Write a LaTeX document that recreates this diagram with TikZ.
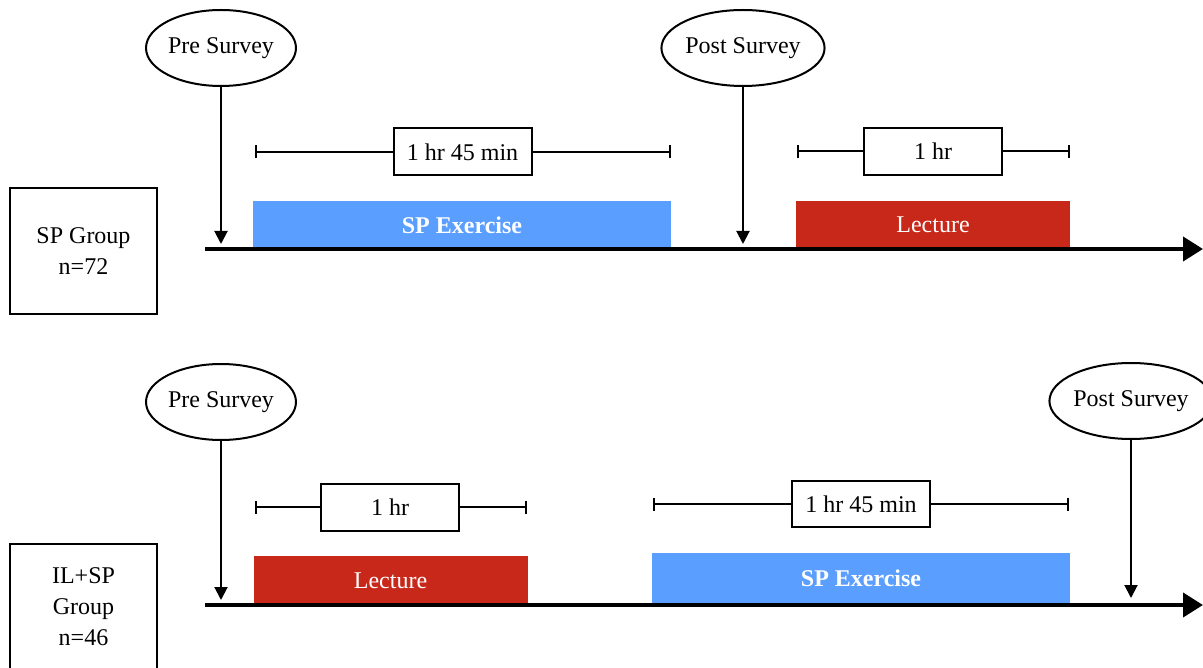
\documentclass[tikz,border=0pt]{standalone}
\usepackage{fontspec}
\setmainfont{Liberation Serif}
\usetikzlibrary{arrows.meta,shapes.geometric}
\definecolor{spblue}{RGB}{90,158,255}
\definecolor{lecred}{RGB}{200,40,26}
\begin{document}
\begin{tikzpicture}[x=1pt,y=-1pt,
  font=\fontsize{24}{31}\selectfont,
  survey/.style={draw,ellipse,line width=2pt,minimum width=150pt,minimum height=76pt,inner sep=0pt},
  group/.style={draw,line width=2pt,align=center,minimum width=147pt,minimum height=126pt,inner sep=0pt},
  spblock/.style={fill=spblue,text=white,font=\fontsize{24}{29}\selectfont\bfseries,minimum width=418pt,inner sep=0pt},
  lecblock/.style={fill=lecred,text=white,minimum width=274pt,inner sep=0pt},
  durbox/.style={draw,fill=white,line width=2pt,minimum width=138pt,minimum height=47pt,inner sep=0pt},
  spanline/.style={line width=2pt},
  pointer/.style={line width=2pt,-{Triangle[length=13pt,width=13pt]}},
  timeline/.style={line width=4pt,-{Triangle[length=20pt,width=24pt]}},
]
\useasboundingbox (0,0) rectangle (1203,668);

% ---------- SP group ----------
\node[group] (g1) at (83.5,251) {SP Group\\n=72};

\node[spblock,minimum height=48pt] (ex1) at (462,225.5) {SP Exercise};
\node[lecblock,minimum height=48pt] (lec1) at (933,225) {Lecture};

\coordinate (t1s) at (205,249);
\coordinate (t1e) at (1203,249);
\draw[timeline] (t1s) -- (t1e);

\node[survey] (pre1) at (221,48) {Pre Survey};
\node[survey] (post1) at (743,48) {Post Survey};
\coordinate (pre1tip) at (221,244);
\coordinate (post1tip) at (743,244);
\draw[pointer] (pre1.south) -- (pre1tip);
\draw[pointer] (post1.south) -- (post1tip);

\node[durbox] (dur1) at (462.5,152) {1 hr 45 min};
\coordinate (d1a) at (255,152);
\coordinate (d1b) at (671,152);
\draw[spanline,{Bar[width=13pt]}-] (d1a) -- (dur1.west);
\draw[spanline,-{Bar[width=13pt]}] (dur1.east) -- (d1b);

\node[durbox] (dur2) at (933,151.5) {1 hr};
\coordinate (d2a) at (797,151.5);
\coordinate (d2b) at (1070,151.5);
\draw[spanline,{Bar[width=13pt]}-] (d2a) -- (dur2.west);
\draw[spanline,-{Bar[width=13pt]}] (dur2.east) -- (d2b);

% ---------- IL+SP group ----------
\node[group] (g2) at (83.5,607) {IL+SP\\Group\\n=46};

\node[lecblock,minimum height=49pt] (lec2) at (390.5,580.5) {Lecture};
\node[spblock,minimum height=50pt] (ex2) at (861,578) {SP Exercise};

\coordinate (t2s) at (205,605);
\coordinate (t2e) at (1203,605);
\draw[timeline] (t2s) -- (t2e);

\node[survey] (pre2) at (221,402) {Pre Survey};
\node[survey] (post2) at (1131,401) {Post Survey};
\coordinate (pre2tip) at (221,600);
\coordinate (post2tip) at (1131,598);
\draw[pointer] (pre2.south) -- (pre2tip);
\draw[pointer] (post2.south) -- (post2tip);

\node[durbox] (dur3) at (390,507) {1 hr};
\coordinate (d3a) at (255,507);
\coordinate (d3b) at (527,507);
\draw[spanline,{Bar[width=13pt]}-] (d3a) -- (dur3.west);
\draw[spanline,-{Bar[width=13pt]}] (dur3.east) -- (d3b);

\node[durbox,minimum height=46pt] (dur4) at (861,504) {1 hr 45 min};
\coordinate (d4a) at (653,504);
\coordinate (d4b) at (1069,504);
\draw[spanline,{Bar[width=13pt]}-] (d4a) -- (dur4.west);
\draw[spanline,-{Bar[width=13pt]}] (dur4.east) -- (d4b);
\end{tikzpicture}
\end{document}
